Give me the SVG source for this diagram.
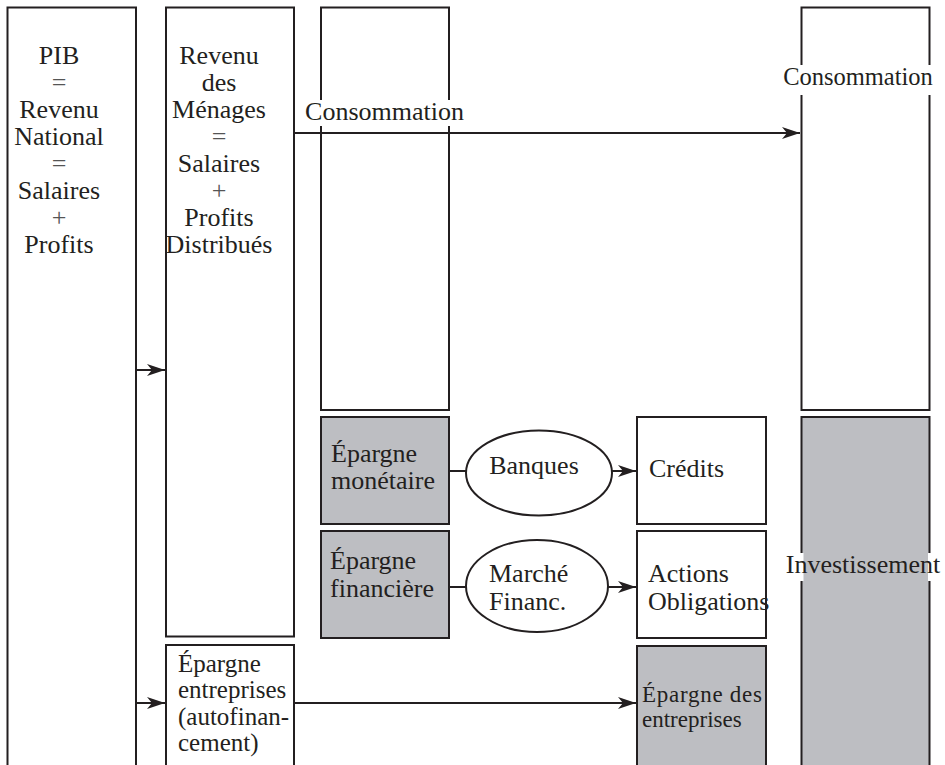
<svg xmlns="http://www.w3.org/2000/svg" width="945" height="765" viewBox="0 0 945 765">
<style>
.box{fill:#ffffff;stroke:#231f20;stroke-width:2}
.gray{fill:#bdbec2;stroke:#231f20;stroke-width:2}
.ell{fill:#ffffff;stroke:#231f20;stroke-width:2}
.t{font-family:"Liberation Serif","DejaVu Serif",serif;font-size:26px;fill:#231f20}
.s{font-size:23px}
.m{font-size:25px}
.c{text-anchor:middle}
.op{fill:#555555}
.ln{stroke:#231f20;stroke-width:2;fill:none}
.gap{fill:#ffffff;stroke:none}
</style>
<defs>
<marker id="arr" markerUnits="userSpaceOnUse" markerWidth="22" markerHeight="14" viewBox="-20 -7 22 14" refX="0" refY="0" orient="auto">
<path d="M-18,-6 L0,0 L-18,6 L-13,0 z" fill="#231f20"/>
</marker>
</defs>
<rect width="945" height="765" fill="#ffffff"/>

<g id="pib">
<rect class="box" x="7.5" y="7.5" width="128.5" height="800"/>
<text class="t c" x="59" y="64">PIB</text>
<text class="t c op" x="59" y="91">=</text>
<text class="t c" x="59" y="118">Revenu</text>
<text class="t c" x="59" y="145">National</text>
<text class="t c op" x="59" y="172">=</text>
<text class="t c" x="59" y="199">Salaires</text>
<text class="t c op" x="59" y="226">+</text>
<text class="t c" x="59" y="253">Profits</text>
</g>

<g id="revenu">
<rect class="box" x="166" y="7.5" width="128" height="629"/>
<text class="t c" x="219" y="64">Revenu</text>
<text class="t c" x="219" y="91">des</text>
<text class="t c" x="219" y="118">Ménages</text>
<text class="t c op" x="219" y="145">=</text>
<text class="t c" x="219" y="172">Salaires</text>
<text class="t c op" x="219" y="199">+</text>
<text class="t c" x="219" y="226">Profits</text>
<text class="t c" x="219" y="253">Distribués</text>
</g>

<g id="epargne-entreprises">
<rect class="box" x="166" y="645" width="128" height="200"/>
<text class="t m" x="178" y="672">Épargne</text>
<text class="t m" x="178" y="698">entreprises</text>
<text class="t m" x="178" y="725">(autofinan-</text>
<text class="t m" x="178" y="751">cement)</text>
</g>

<g id="consommation-menages">
<rect class="box" x="321" y="7.5" width="128" height="402.5"/>
</g>

<g id="epargne-monetaire">
<rect class="gray" x="321" y="417" width="128" height="107"/>
<text class="t" x="331" y="462">Épargne</text>
<text class="t" x="331" y="489">monétaire</text>
</g>

<g id="epargne-financiere">
<rect class="gray" x="321" y="531" width="128" height="107"/>
<text class="t" x="330" y="569">Épargne</text>
<text class="t" x="330" y="597">financière</text>
</g>

<g id="banques">
<ellipse class="ell" cx="539" cy="473" rx="73" ry="42.5"/>
<text class="t c" x="534" y="474">Banques</text>
</g>

<g id="marche">
<ellipse class="ell" cx="537" cy="586" rx="71" ry="46"/>
<text class="t" x="489" y="582">Marché</text>
<text class="t" x="489" y="610">Financ.</text>
</g>

<g id="credits">
<rect class="box" x="637" y="417" width="129" height="107"/>
<text class="t" x="649" y="477">Crédits</text>
</g>

<g id="actions">
<rect class="box" x="637" y="531" width="129" height="107"/>
<text class="t" x="648" y="582">Actions</text>
<text class="t" x="648" y="610">Obligations</text>
</g>

<g id="epargne-des-entreprises">
<rect class="gray" x="637" y="646" width="129" height="200"/>
<text class="t s" x="642" y="702" textLength="120">Épargne des</text>
<text class="t s" x="642" y="727">entreprises</text>
</g>

<g id="consommation">
<rect class="box" x="801.5" y="7.5" width="128" height="402.5"/>
<rect class="gap" x="782" y="65" width="153" height="30"/>
<text class="t c" x="858" y="85" style="font-size:24.5px">Consommation</text>
</g>

<g id="investissement">
<rect class="gray" x="801.5" y="417" width="128" height="400"/>
<rect class="gap" x="799" y="553" width="4.5" height="28"/>
<rect class="gap" x="928" y="553" width="4.5" height="28"/>
<text class="t c" x="863" y="573">Investissement</text>
</g>

<g id="connectors">
<line class="ln" x1="136" y1="370" x2="165" y2="370" marker-end="url(#arr)"/>
<line class="ln" x1="136" y1="703" x2="165" y2="703" marker-end="url(#arr)"/>
<line class="ln" x1="294" y1="133" x2="800" y2="133" marker-end="url(#arr)"/>
<line class="ln" x1="449" y1="471" x2="466" y2="471"/>
<line class="ln" x1="612" y1="471" x2="636" y2="471" marker-end="url(#arr)"/>
<line class="ln" x1="449" y1="587" x2="466" y2="587"/>
<line class="ln" x1="608" y1="587" x2="636" y2="587" marker-end="url(#arr)"/>
<line class="ln" x1="294" y1="703" x2="636" y2="703" marker-end="url(#arr)"/>
</g>

<g id="label-consommation">
<rect class="gap" x="304" y="100" width="162" height="26"/>
<text class="t c" x="384.5" y="120">Consommation</text>
</g>
</svg>
